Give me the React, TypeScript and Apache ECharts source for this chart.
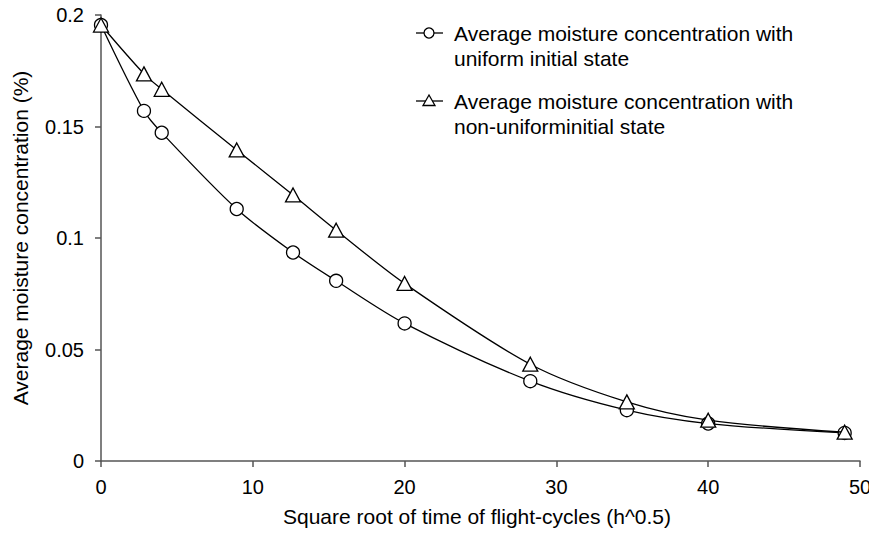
import React, { useEffect, useRef } from "react";
import * as echarts from "echarts";

const xValues = [0, 2.83, 4, 8.94, 12.65, 15.49, 20, 28.28, 34.64, 40, 48.99];
const uniformValues = [0.1955, 0.157, 0.1472, 0.113, 0.0935, 0.0808, 0.0617, 0.0358, 0.0228, 0.0168, 0.0126];
const nonUniformValues = [0.1955, 0.1736, 0.1667, 0.1395, 0.1193, 0.1035, 0.0796, 0.0434, 0.0265, 0.0183, 0.0129];
const seriesNames = [
  "Average moisture concentration with uniform initial state",
  "Average moisture concentration with non-uniforminitial state",
];
const legendLines = [
  ["Average moisture concentration with", "uniform initial state"],
  ["Average moisture concentration with", "non-uniforminitial state"],
];
const xTitle = "Square root of time of flight-cycles (h^0.5)";
const yTitle = "Average moisture concentration (%)";

const FONT = "'Liberation Sans', Arial, Helvetica, sans-serif";

export default function App() {
  const ref = useRef<HTMLDivElement>(null);
  useEffect(() => {
    if (!ref.current) return;
    const chart = echarts.init(ref.current, null, { renderer: "svg" });
    const toPairs = (ys: number[]) => xValues.map((x, i) => [x, ys[i]]);
    const legendGraphic = (idx: number, y: number, symbol: "circle" | "triangle") => {
      const children: any[] = [
        { type: "line", shape: { x1: 416, y1: y, x2: 443, y2: y }, style: { stroke: "#000", lineWidth: 1.3 } },
      ];
      if (symbol === "circle") {
        children.push({ type: "circle", shape: { cx: 429, cy: y, r: 5 }, style: { fill: "#fff", stroke: "#000", lineWidth: 1.3 } });
      } else {
        children.push({
          type: "polygon",
          shape: { points: [[429, y - 6], [423, y + 4.5], [435, y + 4.5]] },
          style: { fill: "#fff", stroke: "#000", lineWidth: 1.3 },
        });
      }
      children.push({
        type: "text",
        x: 454,
        y: y,
        style: {
          text: legendLines[idx][0],
          font: `21px ${FONT}`,
          fill: "#000",
          textVerticalAlign: "middle",
        },
      });
      children.push({
        type: "text",
        x: 454,
        y: y + 25,
        style: {
          text: legendLines[idx][1],
          font: `21px ${FONT}`,
          fill: "#000",
          textVerticalAlign: "middle",
        },
      });
      return { type: "group", children };
    };
    chart.setOption({
      animation: false,
      backgroundColor: "#fff",
      grid: { left: 101, right: 17, top: 15, bottom: 75, containLabel: false },
      xAxis: {
        type: "value",
        min: 0,
        max: 50,
        interval: 10,
        name: xTitle,
        nameLocation: "middle",
        nameGap: 45,
        nameTextStyle: { fontFamily: FONT, fontSize: 21, color: "#000", padding: [0, 7, 0, 0] },
        axisLine: { show: true, lineStyle: { color: "#555", width: 1.5 } },
        axisTick: { show: true, inside: false, length: 6, lineStyle: { color: "#555", width: 1.5 } },
        axisLabel: { margin: 16, fontFamily: FONT, fontSize: 20, color: "#000" },
        splitLine: { show: false },
      },
      yAxis: {
        type: "value",
        min: 0,
        max: 0.2,
        interval: 0.05,
        axisLine: { show: true, lineStyle: { color: "#555", width: 1.5 } },
        axisTick: { show: true, inside: false, length: 6, lineStyle: { color: "#555", width: 1.5 } },
        axisLabel: { margin: 17, fontFamily: FONT, fontSize: 20, color: "#000" },
        splitLine: { show: false },
      },
      series: [
        {
          name: seriesNames[0],
          type: "line",
          data: toPairs(uniformValues),
          smooth: 0.3,
          symbol: "circle",
          symbolSize: 13,
          lineStyle: { color: "#000", width: 1.3 },
          itemStyle: { color: "#fff", borderColor: "#000", borderWidth: 1.3 },
          z: 3,
        },
        {
          name: seriesNames[1],
          type: "line",
          data: toPairs(nonUniformValues),
          smooth: 0.3,
          symbol: "triangle",
          symbolSize: [15, 14],
          lineStyle: { color: "#000", width: 1.3 },
          itemStyle: { color: "#fff", borderColor: "#000", borderWidth: 1.3 },
          z: 4,
        },
      ],
      graphic: [
        legendGraphic(0, 33, "circle"),
        legendGraphic(1, 101, "triangle"),
        {
          type: "text",
          x: 20,
          y: 238,
          rotation: Math.PI / 2,
          style: {
            text: yTitle,
            font: `21px ${FONT}`,
            fill: "#000",
            textAlign: "center",
            textVerticalAlign: "middle",
          },
        },
      ],
    });
    return () => chart.dispose();
  }, []);
  return <div ref={ref} style={{ width: 877, height: 536, margin: -8 }} />;
}
